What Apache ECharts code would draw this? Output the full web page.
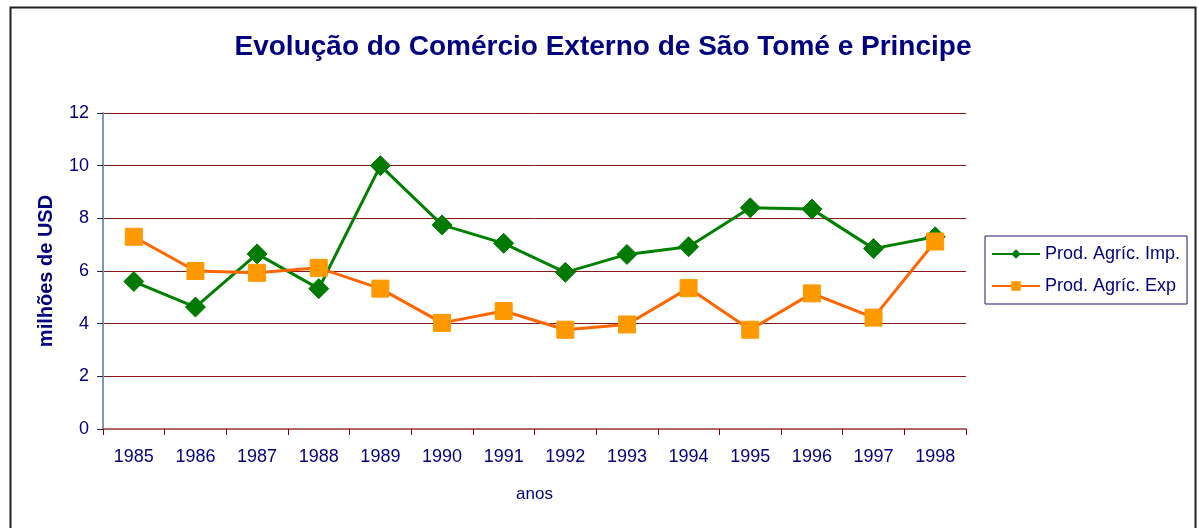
<!DOCTYPE html>
<html>
<head>
<meta charset="utf-8">
<script src="https://cdn.jsdelivr.net/npm/echarts@6/dist/echarts.min.js"></script>
<style>
html,body{margin:0;padding:0;background:#fff;}
#chart{width:1198px;height:528px;}
</style>
</head>
<body>
<div id="chart"></div>
<script>
const years = ['1985','1986','1987','1988','1989','1990','1991','1992','1993','1994','1995','1996','1997','1998'];
const importValues = [5.6, 4.63, 6.65, 5.33, 10.0, 7.75, 7.05, 5.95, 6.63, 6.92, 8.4, 8.35, 6.85, 7.3];
const exportValues = [7.3, 6.0, 5.93, 6.12, 5.33, 4.03, 4.48, 3.77, 3.97, 5.35, 3.77, 5.15, 4.23, 7.12];
const seriesNames = ['Prod. Agríc. Imp.', 'Prod. Agríc. Exp'];
const yTicks = [0, 2, 4, 6, 8, 10, 12];

const navy = '#000080';
const font = 'Liberation Sans, Arial, sans-serif';
const chart = echarts.init(document.getElementById('chart'), null, {renderer: 'canvas'});
chart.setOption({
  animation: false,
  backgroundColor: '#fff',
  graphic: [{
    type: 'rect', left: 8, top: 5,
    shape: {width: 1185, height: 540},
    style: {fill: 'none', stroke: '#222', lineWidth: 2},
    silent: true
  }],
  title: {
    text: 'Evolução do Comércio Externo de São Tomé e Principe',
    left: 598, top: 28, textAlign: 'center',
    textStyle: {color: navy, fontFamily: font, fontWeight: 'bold', fontSize: 28}
  },
  legend: {
    orient: 'vertical', left: 985, top: 236,
    padding: [9, 7, 9, 6],
    borderColor: '#1a1a70', borderWidth: 1,
    itemWidth: 48, itemHeight: 12, itemGap: 14,
    textStyle: {color: navy, fontFamily: font, fontSize: 18},
    data: seriesNames
  },
  grid: {left: 103, right: 232, top: 113, bottom: 99},
  xAxis: {
    type: 'category', data: years, boundaryGap: true,
    name: 'anos', nameLocation: 'middle', nameGap: 57,
    nameTextStyle: {color: navy, fontFamily: font, fontSize: 17},
    axisLine: {lineStyle: {color: '#b06868', width: 2}},
    axisTick: {show: true, length: 6, lineStyle: {color: '#800000'}},
    axisLabel: {color: navy, fontFamily: font, fontSize: 18, margin: 19}
  },
  yAxis: {
    type: 'value', min: 0, max: 12, interval: 2,
    name: 'milhões de USD', nameLocation: 'middle', nameGap: 47, nameRotate: 90,
    nameTextStyle: {color: navy, fontFamily: font, fontWeight: 'bold', fontSize: 20},
    axisLine: {show: true, lineStyle: {color: '#7f98b4', width: 2}},
    axisTick: {show: true, length: 6, lineStyle: {color: '#1a2a5a'}},
    axisLabel: {color: navy, fontFamily: font, fontSize: 18, margin: 14,
      formatter: v => yTicks.includes(v) ? String(v) : ''},
    splitLine: {show: true, lineStyle: {color: '#8a1a1a', width: 1}}
  },
  series: [{
    name: seriesNames[0], type: 'line', data: importValues,
    symbol: 'diamond', symbolSize: 20,
    lineStyle: {color: '#008000', width: 3},
    itemStyle: {color: '#007a00', borderColor: '#007a00'}
  }, {
    name: seriesNames[1], type: 'line', data: exportValues,
    symbol: 'rect', symbolSize: 17,
    lineStyle: {color: '#ff6600', width: 3},
    itemStyle: {color: '#ff9900', borderColor: '#ff9900'}
  }]
});
</script>
</body>
</html>
